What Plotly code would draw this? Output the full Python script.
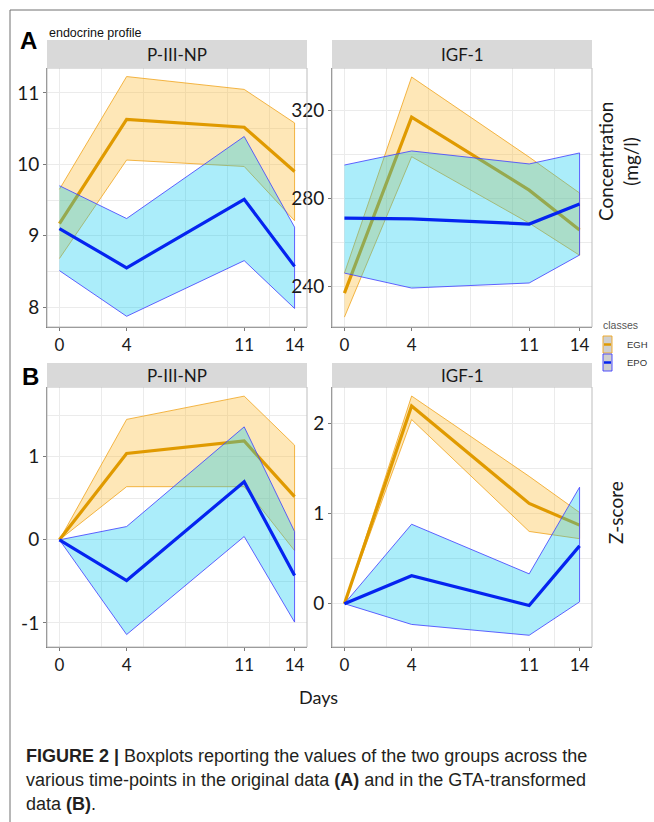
import plotly.graph_objects as go

W, H = 654, 822

days = [0, 4, 11, 14]
day_ticks = [0, 4, 11, 14]

# Panel A: original data (P-III-NP and IGF-1), concentration
a_pnp_egh_med = [9.17, 10.63, 10.52, 9.90]
a_pnp_egh_hi = [9.65, 11.23, 11.05, 10.58]
a_pnp_egh_lo = [8.68, 10.06, 9.97, 9.21]
a_pnp_epo_med = [9.10, 8.55, 9.51, 8.57]
a_pnp_epo_hi = [9.70, 9.24, 10.39, 9.12]
a_pnp_epo_lo = [8.51, 7.87, 8.65, 7.98]

a_igf_egh_med = [236.8, 316.8, 283.6, 265.5]
a_igf_egh_hi = [245.9, 335.0, 298.6, 282.3]
a_igf_egh_lo = [225.9, 298.8, 268.6, 254.0]
a_igf_epo_med = [270.9, 270.5, 268.2, 277.3]
a_igf_epo_hi = [295.0, 301.4, 295.5, 300.5]
a_igf_epo_lo = [245.9, 239.1, 241.4, 254.1]

# Panel B: GTA-transformed data, Z-score
b_pnp_egh_med = [0, 1.04, 1.19, 0.52]
b_pnp_egh_hi = [0, 1.45, 1.73, 1.14]
b_pnp_egh_lo = [0, 0.64, 0.64, -0.13]
b_pnp_epo_med = [0, -0.49, 0.70, -0.43]
b_pnp_epo_hi = [0, 0.16, 1.36, 0.10]
b_pnp_epo_lo = [0, -1.14, 0.04, -0.99]

b_igf_egh_med = [0, 2.19, 1.11, 0.87]
b_igf_egh_hi = [0, 2.30, 1.41, 1.01]
b_igf_egh_lo = [0, 2.04, 0.80, 0.72]
b_igf_epo_med = [0, 0.31, -0.02, 0.64]
b_igf_epo_hi = [0, 0.88, 0.33, 1.29]
b_igf_epo_lo = [0, -0.23, -0.35, 0.02]

panel_titles = ["P-III-NP", "IGF-1", "P-III-NP", "IGF-1"]
classes = ["EGH", "EPO"]

EGH_LINE = "#E09A00"
EGH_FILL = "rgba(252,185,45,0.34)"
EGH_EDGE = "rgba(240,165,30,0.9)"
EPO_LINE = "#0524F0"
EPO_FILL = "rgba(0,200,240,0.33)"
EPO_EDGE = "rgba(70,70,255,0.95)"


def X(px):
    return px / W


def Y(py):
    return 1 - py / H


fig = go.Figure()

panels = [
    ("x", "y", (47, 307), (68, 327), [7.72, 11.35], [8, 9, 10, 11], [7.5 + 0.5 * i for i in range(10)],
     [(a_pnp_egh_lo, a_pnp_egh_hi, a_pnp_egh_med), (a_pnp_epo_lo, a_pnp_epo_hi, a_pnp_epo_med)]),
    ("x2", "y2", (332, 592), (68, 327), [221.4, 339.1], [240, 280, 320], [220 + 20 * i for i in range(7)],
     [(a_igf_egh_lo, a_igf_egh_hi, a_igf_egh_med), (a_igf_epo_lo, a_igf_epo_hi, a_igf_epo_med)]),
    ("x3", "y3", (47, 307), (387, 647), [-1.29, 1.84], [-1, 0, 1], [-1.5 + 0.5 * i for i in range(8)],
     [(b_pnp_egh_lo, b_pnp_egh_hi, b_pnp_egh_med), (b_pnp_epo_lo, b_pnp_epo_hi, b_pnp_epo_med)]),
    ("x4", "y4", (332, 592), (387, 647), [-0.48, 2.4], [0, 1, 2], [-0.5 + 0.5 * i for i in range(7)],
     [(b_igf_egh_lo, b_igf_egh_hi, b_igf_egh_med), (b_igf_epo_lo, b_igf_epo_hi, b_igf_epo_med)]),
]

styles = [(EGH_LINE, EGH_FILL, EGH_EDGE), (EPO_LINE, EPO_FILL, EPO_EDGE)]

layout_axes = {}
shapes = []
annotations = []

for idx, (xa, ya, (x0, x1), (y0, y1), yr, ytv, ygrid, data) in enumerate(panels):
    for (lo, hi, med), cls, (lc, fc, ec) in zip(data, classes, styles):
        fig.add_trace(go.Scatter(
            x=days + days[::-1], y=hi + lo[::-1], fill="toself", fillcolor=fc,
            line=dict(color=ec, width=0.9), mode="lines", xaxis=xa, yaxis=ya,
            showlegend=False, hoverinfo="skip"))
        fig.add_trace(go.Scatter(
            x=days, y=med, mode="lines", line=dict(color=lc, width=3.2),
            xaxis=xa, yaxis=ya, name=cls, showlegend=False))
    xk = "xaxis" + xa[1:]
    yk = "yaxis" + ya[1:]
    layout_axes[xk] = dict(
        domain=[X(x0), X(x1)], anchor=ya, range=[-0.74, 14.74],
        tickmode="array", tickvals=day_ticks, ticktext=[str(d) for d in day_ticks],
        showgrid=False, zeroline=False, showline=True, linecolor="#7a7a7a", linewidth=1,
        ticks="outside", ticklen=3, tickcolor="#7a7a7a",
        tickfont=dict(family="Lato, Open Sans, sans-serif", size=17, color="#1a1a1a"),
        minor=dict(tickmode="array", tickvals=[0, 2.5, 5, 7.5, 10, 12.5],
                   showgrid=True, gridcolor="#ebebeb", gridwidth=1, ticks=""),
    )
    layout_axes[yk] = dict(
        domain=[Y(y1), Y(y0)], anchor=xa, range=yr,
        tickmode="array", tickvals=ytv, ticktext=[str(v) for v in ytv],
        showgrid=False, zeroline=False, showline=True, linecolor="#7a7a7a", linewidth=1,
        ticks="outside", ticklen=3, tickcolor="#7a7a7a",
        tickfont=dict(family="Lato, Open Sans, sans-serif", size=19, color="#1a1a1a"),
        minor=dict(tickmode="array", tickvals=ygrid,
                   showgrid=True, gridcolor="#ebebeb", gridwidth=1, ticks=""),
    )
    shapes.append(dict(type="rect", xref="paper", yref="paper", x0=X(x0), x1=X(x1), y0=Y(y1), y1=Y(y0),
                       line=dict(color="#bdbdbd", width=1), fillcolor="rgba(0,0,0,0)", layer="above"))
    sy0, sy1 = (40, 68) if y0 == 68 else (363, 387)
    shapes.append(dict(type="rect", xref="paper", yref="paper", x0=X(x0), x1=X(x1), y0=Y(sy1), y1=Y(sy0),
                       line=dict(width=0), fillcolor="#d9d9d9", layer="above"))
    annotations.append(dict(xref="paper", yref="paper", x=X((x0 + x1) / 2), y=Y((sy0 + sy1) / 2),
                            text=panel_titles[idx], showarrow=False, xanchor="center", yanchor="middle",
                            font=dict(family="Lato, Open Sans, sans-serif", size=17, color="#1a1a1a")))

# outer frame lines
shapes.append(dict(type="line", xref="paper", yref="paper", x0=X(10), x1=X(654), y0=Y(10), y1=Y(10),
                   line=dict(color="#707070", width=1)))
shapes.append(dict(type="line", xref="paper", yref="paper", x0=X(10), x1=X(10), y0=Y(10), y1=Y(822),
                   line=dict(color="#707070", width=1)))

# legend (drawn)
annotations.append(dict(xref="paper", yref="paper", x=X(601), y=Y(325), text="classes", showarrow=False,
                        xanchor="left", yanchor="middle",
                        font=dict(family="Liberation Sans, Arial, sans-serif", size=10.5, color="#555555")))
for (ky0, ky1), cls, (lc, fc, ec) in zip([(336, 353), (354, 371)], classes, styles):
    shapes.append(dict(type="rect", xref="paper", yref="paper", x0=X(603), x1=X(612), y0=Y(ky1), y1=Y(ky0),
                       line=dict(color=ec, width=1), fillcolor="#cfcfcf"))
    shapes.append(dict(type="line", xref="paper", yref="paper", x0=X(604), x1=X(611),
                       y0=Y((ky0 + ky1) / 2), y1=Y((ky0 + ky1) / 2), line=dict(color=lc, width=2.5)))
    annotations.append(dict(xref="paper", yref="paper", x=X(625), y=Y((ky0 + ky1) / 2), text=cls,
                            showarrow=False, xanchor="left", yanchor="middle",
                            font=dict(family="Liberation Sans, Arial, sans-serif", size=9.5, color="#333333")))

annotations += [
    dict(xref="paper", yref="paper", x=X(28), y=Y(41), text="<b>A</b>", showarrow=False,
         xanchor="center", yanchor="middle", font=dict(family="Liberation Sans, Arial", size=24, color="#000")),
    dict(xref="paper", yref="paper", x=X(30), y=Y(377), text="<b>B</b>", showarrow=False,
         xanchor="center", yanchor="middle", font=dict(family="Liberation Sans, Arial", size=24, color="#000")),
    dict(xref="paper", yref="paper", x=X(47), y=Y(33), text="endocrine profile", showarrow=False,
         xanchor="left", yanchor="middle", font=dict(family="Liberation Sans, Arial", size=12.5, color="#111")),
    dict(xref="paper", yref="paper", x=X(618), y=Y(162), text="Concentration<br>(mg/l)", showarrow=False,
         textangle=-90, xanchor="center", yanchor="middle",
         font=dict(family="Lato, Open Sans, sans-serif", size=19, color="#1a1a1a")),
    dict(xref="paper", yref="paper", x=X(615), y=Y(513), text="Z-score", showarrow=False,
         textangle=-90, xanchor="center", yanchor="middle",
         font=dict(family="Lato, Open Sans, sans-serif", size=19, color="#1a1a1a")),
    dict(xref="paper", yref="paper", x=X(318), y=Y(697), text="Days", showarrow=False,
         xanchor="center", yanchor="middle",
         font=dict(family="Lato, Open Sans, sans-serif", size=18, color="#1a1a1a")),
]

caption_lines = [
    "<b>FIGURE 2 |</b> Boxplots reporting the values of the two groups across the",
    "various time-points in the original data <b>(A)</b> and in the GTA-transformed",
    "data <b>(B)</b>.",
]
for i, line in enumerate(caption_lines):
    annotations.append(dict(xref="paper", yref="paper", x=X(24), y=Y(756 + 24 * i), text=line,
                            showarrow=False, xanchor="left", yanchor="middle",
                            font=dict(family="Liberation Sans, Arial, sans-serif",
                                      size=18, color="#231f20")))

fig.update_layout(
    width=W, height=H, margin=dict(l=0, r=0, t=0, b=0),
    paper_bgcolor="white", plot_bgcolor="white",
    showlegend=False, shapes=shapes, annotations=annotations,
    **layout_axes,
)

fig.write_html("out.html", config={"displayModeBar": False},
               post_script="document.body.style.margin='0px';document.body.style.overflow='hidden';")
